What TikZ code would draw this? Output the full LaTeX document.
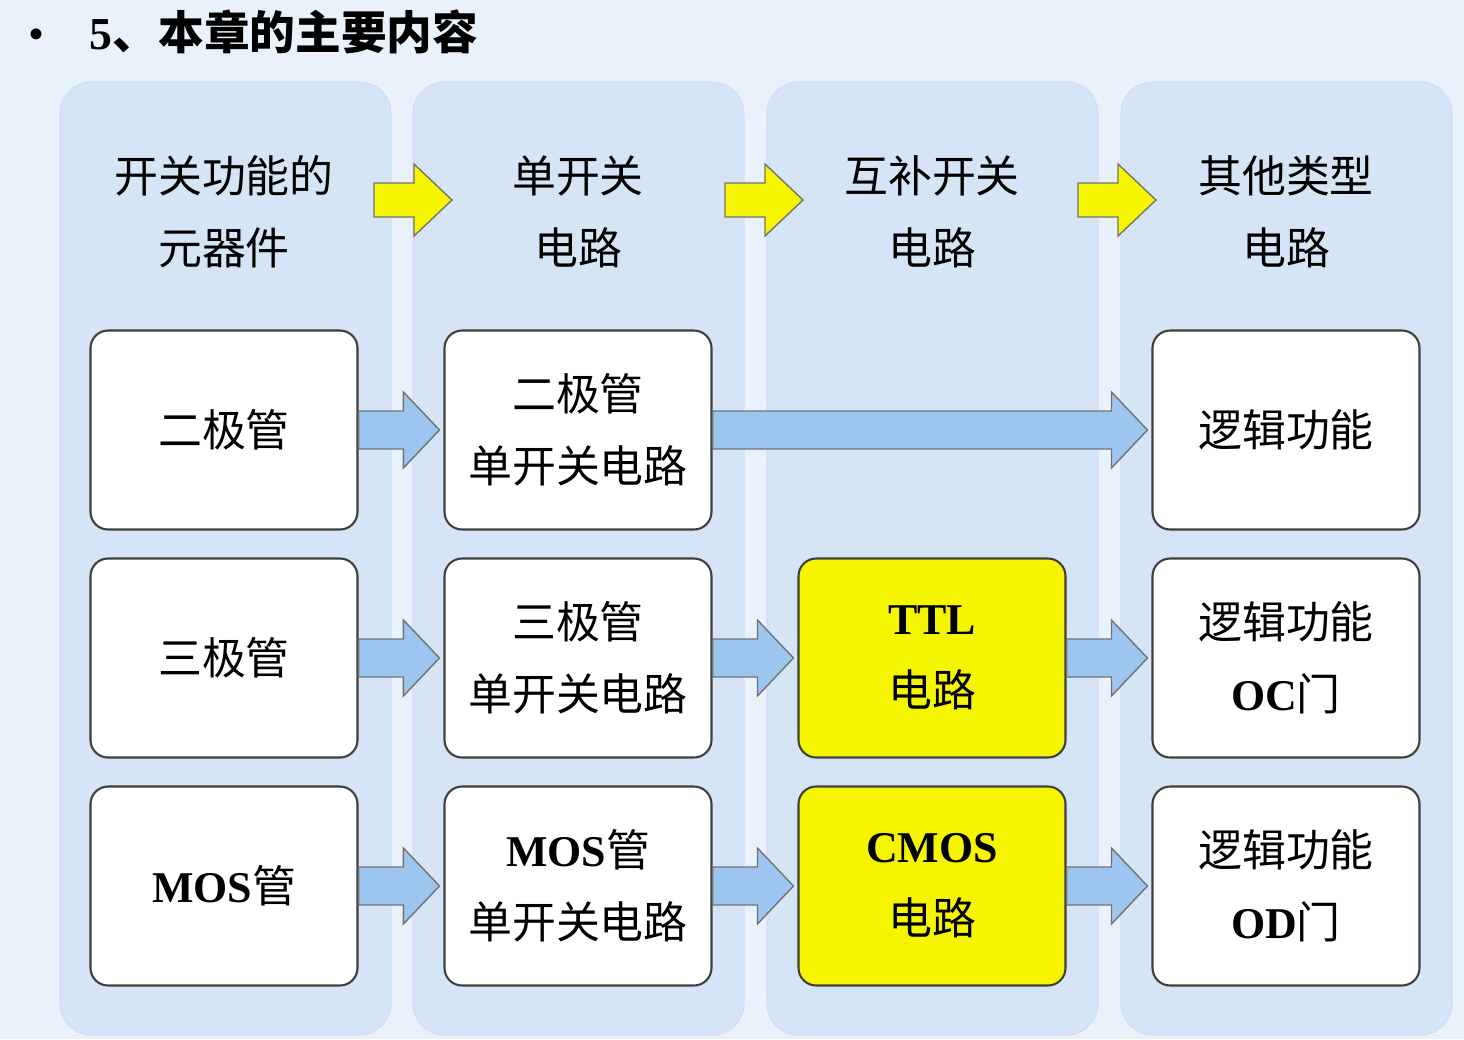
\documentclass[tikz,border=0pt]{standalone}
\usepackage{fontspec}
\setmainfont{Liberation Serif}
\newfontfamily\cjk{Noto Sans CJK SC}
\usetikzlibrary{calc}
\definecolor{bg}{HTML}{E9F2FB}
\definecolor{panel}{HTML}{D5E5F5}
\definecolor{arrb}{HTML}{9CC6F0}
\definecolor{arry}{HTML}{F5F500}
\begin{document}
\begin{tikzpicture}[x=0.02cm,y=-0.02cm,
  panel/.style={rounded corners=18pt,fill=panel,draw=panel!85!blue!60,line width=0.6pt},
  box/.style={rounded corners=10pt,draw=black!75,line width=1.2pt,fill=white,minimum width=267*0.02cm,minimum height=199*0.02cm,align=center,font=\fontsize{25}{41}\selectfont\cjk},
  ybox/.style={box,fill=arry},
  head/.style={align=center,font=\fontsize{25}{41}\selectfont\cjk},
  barr/.style={fill=arrb,draw=black!55,line width=0.8pt},
  yarr/.style={fill=arry,draw=black!55,line width=0.8pt}]
\fill[bg] (0,0) rectangle (1464,1039);
\useasboundingbox (0,0) rectangle (1464,1039);
\foreach \x in {60,413,767,1121}{\draw[panel] (\x,82) rectangle (\x+331,1035);}
\node[anchor=west,font=\fontsize{26}{30}\selectfont] (title) at (22,32) {\textbullet\hspace{26pt}\textbf{5}{\cjk\bfseries 、本章的主要内容}};
\node[head] (h1) at (224,212) {开关功能的\\元器件};
\node[head] (h2) at (578,212) {单开关\\电路};
\node[head] (h3) at (932,212) {互补开关\\电路};
\node[head] (h4) at (1286,212) {其他类型\\电路};
\node[box] (a1) at (224,430) {二极管};
\node[box] (a2) at (224,658) {三极管};
\node[box] (a3) at (224,886) {{\rmfamily\bfseries MOS}管};
\node[box] (b1) at (578,430) {二极管\\单开关电路};
\node[box] (b2) at (578,658) {三极管\\单开关电路};
\node[box] (b3) at (578,886) {{\rmfamily\bfseries MOS}管\\单开关电路};
\node[ybox] (c2) at (932,658) {{\rmfamily\bfseries TTL}\\电路};
\node[ybox] (c3) at (932,886) {{\rmfamily\bfseries CMOS}\\电路};
\node[box] (d1) at (1286,430) {逻辑功能};
\node[box] (d2) at (1286,658) {逻辑功能\\{\rmfamily\bfseries OC}门};
\node[box] (d3) at (1286,886) {逻辑功能\\{\rmfamily\bfseries OD}门};
\coordinate (y1) at (422,200);
\coordinate (y2) at (773,200);
\coordinate (y3) at (1126,200);
% blue arrows
\foreach \s/\t in {a1/b1,a2/b2,a3/b3,b2/c2,b3/c3,c2/d2,c3/d3,b1/d1}{
  \draw[barr] let \p1=(\s.east),\p2=(\t.west) in
   (\x1,\y1+19*0.02cm) -- (\x2-40*0.02cm,\y1+19*0.02cm) -- (\x2-40*0.02cm,\y1+38*0.02cm) -- (\x2-4*0.02cm,\y1)
   -- (\x2-40*0.02cm,\y1-38*0.02cm) -- (\x2-40*0.02cm,\y1-19*0.02cm) -- (\x1,\y1-19*0.02cm) -- cycle;}
% yellow arrows
\foreach \c in {y1,y2,y3}{
  \draw[yarr] let \p1=(\c) in
   (\x1-48*0.02cm,\y1+17*0.02cm) -- (\x1-8*0.02cm,\y1+17*0.02cm) -- (\x1-8*0.02cm,\y1+36*0.02cm) -- (\x1+30*0.02cm,\y1)
   -- (\x1-8*0.02cm,\y1-36*0.02cm) -- (\x1-8*0.02cm,\y1-17*0.02cm) -- (\x1-48*0.02cm,\y1-17*0.02cm) -- cycle;}
\end{tikzpicture}
\end{document}
